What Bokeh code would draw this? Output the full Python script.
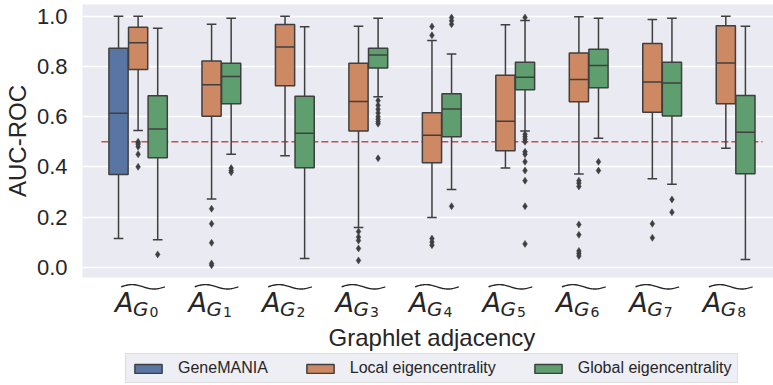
import numpy as np
from bokeh.plotting import figure
from bokeh.layouts import column
from bokeh.core.properties import value
from bokeh.models import (ColumnDataSource, Range1d, FixedTicker, PrintfTickFormatter,
                          Legend, LegendItem)
from bokeh.embed import file_html
from bokeh.resources import INLINE

# ---- data -----------------------------------------------------------------
groups = list(range(9))
group_subscripts = ["0", "1", "2", "3", "4", "5", "6", "7", "8"]
series_names = ["GeneMANIA", "Local eigencentrality", "Global eigencentrality"]
chance_level = 0.5

# GeneMANIA baseline is only evaluated on the first graphlet adjacency
gm_groups = [0]
gm_whislo = [0.114]
gm_q1 = [0.369]
gm_med = [0.614]
gm_q3 = [0.873]
gm_whishi = [1.000]
gm_fliers = [[]]

local_groups = groups
local_whislo = [0.545, 0.272, 0.444, 0.158, 0.198, 0.395, 0.371, 0.353, 0.474]
local_q1 = [0.788, 0.602, 0.723, 0.543, 0.416, 0.464, 0.659, 0.618, 0.651]
local_med = [0.895, 0.727, 0.878, 0.660, 0.526, 0.582, 0.748, 0.738, 0.814]
local_q3 = [0.956, 0.822, 0.967, 0.813, 0.616, 0.765, 0.854, 0.892, 0.962]
local_whishi = [1.000, 0.968, 1.000, 0.960, 0.904, 0.966, 0.998, 0.987, 1.000]
local_fliers = [
    [0.500, 0.495, 0.490, 0.480, 0.450, 0.400],
    [0.233, 0.173, 0.097, 0.015, 0.008],
    [],
    [0.142, 0.120, 0.106, 0.075, 0.027],
    [0.959, 0.924, 0.114, 0.100, 0.088],
    [],
    [0.345, 0.335, 0.322, 0.170, 0.129, 0.065, 0.055, 0.045],
    [0.173, 0.117],
    [],
]

global_groups = groups
global_whislo = [0.109, 0.450, 0.035, 0.679, 0.310, 0.543, 0.514, 0.331, 0.031]
global_q1 = [0.436, 0.651, 0.396, 0.794, 0.520, 0.707, 0.715, 0.603, 0.372]
global_med = [0.551, 0.760, 0.534, 0.846, 0.631, 0.757, 0.804, 0.734, 0.538]
global_q3 = [0.683, 0.813, 0.681, 0.873, 0.691, 0.817, 0.869, 0.817, 0.684]
global_whishi = [0.952, 0.992, 0.958, 0.992, 0.850, 0.983, 0.992, 0.992, 0.960]
global_fliers = [
    [0.051],
    [0.395, 0.385, 0.378],
    [],
    [0.664, 0.645, 0.630, 0.615, 0.600, 0.590, 0.580, 0.572, 0.434],
    [0.995, 0.982, 0.968, 0.243],
    [0.995, 0.530, 0.520, 0.510, 0.500, 0.460, 0.450, 0.420, 0.385, 0.345, 0.243, 0.093],
    [0.420, 0.385],
    [0.270, 0.219],
    [],
]

# ---- styling ----------------------------------------------------------------
W = 773
TOP_H, FOOT_H = 282, 103          # chart panel / tick-label + legend strip
FRAME_L, FRAME_T, FRAME_PAD_B = 77, 4, 5
X_LO, X_HI = -0.757, 8.649
Y_LO, Y_HI = -0.041, 1.047
BG = "#EAEAF2"
LEGEND_BG = "#EEEEF5"
INK = "#262626"
EDGE = "#3F3F3F"
COLORS = ["#5875A4", "#CC8963", "#5F9E6E"]
SANS = "Liberation Sans"
MATH = "DejaVu Sans"

n_hue = len(series_names)
slot = 0.8 / n_hue
hue_offsets = (np.arange(n_hue) - (n_hue - 1) / 2) * slot
box_w = slot * 0.98
px_per_x = (W - FRAME_L) / (X_HI - X_LO)

# ---- main chart -------------------------------------------------------------
p = figure(width=W, height=TOP_H, x_range=Range1d(X_LO, X_HI), y_range=Range1d(Y_LO, Y_HI),
           output_backend="svg", toolbar_location=None, x_axis_location=None,
           min_border_left=FRAME_L, min_border_right=0,
           min_border_top=FRAME_T, min_border_bottom=FRAME_PAD_B)
p.background_fill_color = BG
p.border_fill_color = "white"
p.outline_line_color = None

p.yaxis.ticker = FixedTicker(ticks=[0.0, 0.2, 0.4, 0.6, 0.8, 1.0])
p.yaxis.formatter = PrintfTickFormatter(format="%.1f")
p.yaxis.axis_label = "AUC-ROC"
p.yaxis.axis_label_text_font = SANS
p.yaxis.axis_label_text_font_size = "24px"
p.yaxis.axis_label_text_font_style = "normal"
p.yaxis.axis_label_text_color = INK
p.yaxis.axis_label_standoff = 3
p.yaxis.major_label_text_font = SANS
p.yaxis.major_label_text_font_size = "22px"
p.yaxis.major_label_text_color = INK
p.yaxis.major_label_standoff = 9
p.yaxis.axis_line_color = None
p.yaxis.major_tick_line_color = None
p.yaxis.minor_tick_line_color = None

p.xgrid.visible = False
p.ygrid.grid_line_color = "white"
p.ygrid.grid_line_width = 1.3

# chance level
p.line(x=[groups[0] - 0.5, groups[-1] + 0.5], y=[chance_level, chance_level],
       line_color="#C44E52", line_width=1.6, line_dash="7 3", level="underlay")

all_series = [
    (gm_groups, gm_whislo, gm_q1, gm_med, gm_q3, gm_whishi, gm_fliers),
    (local_groups, local_whislo, local_q1, local_med, local_q3, local_whishi, local_fliers),
    (global_groups, global_whislo, global_q1, global_med, global_q3, global_whishi, global_fliers),
]

for k, (grp, wlo, q1, med, q3, whi, fl) in enumerate(all_series):
    xs = np.asarray(grp, dtype=float) + hue_offsets[k]
    src = ColumnDataSource(dict(
        x=xs, x_l=xs - box_w / 2, x_r=xs + box_w / 2,
        cap_l=xs - box_w / 4, cap_r=xs + box_w / 4,
        wlo=wlo, q1=q1, med=med, q3=q3, whi=whi))
    p.segment(x0="x", y0="q3", x1="x", y1="whi", source=src, line_color=EDGE, line_width=1.5)
    p.segment(x0="x", y0="q1", x1="x", y1="wlo", source=src, line_color=EDGE, line_width=1.5)
    p.segment(x0="cap_l", y0="whi", x1="cap_r", y1="whi", source=src, line_color=EDGE, line_width=1.5)
    p.segment(x0="cap_l", y0="wlo", x1="cap_r", y1="wlo", source=src, line_color=EDGE, line_width=1.5)
    p.vbar(x="x", width=box_w, top="q3", bottom="q1", source=src,
           fill_color=COLORS[k], line_color=EDGE, line_width=1.5)
    p.segment(x0="x_l", y0="med", x1="x_r", y1="med", source=src, line_color=EDGE, line_width=1.5)
    fx = [x for x, vals in zip(xs, fl) for _ in vals]
    fy = [v for vals in fl for v in vals]
    if fy:
        p.scatter(x=fx, y=fy, marker="diamond", size=7, fill_color=EDGE,
                  line_color=EDGE, line_width=0.5)

# ---- strip below: tick labels, axis title and legend -------------------------
# y of this strip counts pixel rows downward from its top edge
q = figure(width=W, height=FOOT_H, x_range=p.x_range, y_range=Range1d(FOOT_H, 0),
           output_backend="svg", toolbar_location=None,
           x_axis_location=None, y_axis_location=None,
           min_border_left=FRAME_L, min_border_right=0, min_border_top=0, min_border_bottom=0)
q.background_fill_color = "white"
q.border_fill_color = "white"
q.outline_line_color = None
q.grid.visible = False

tick_src = ColumnDataSource(dict(x=groups, a=["A"] * len(groups), g=["G"] * len(groups),
                                 k=group_subscripts))
q.text(x="x", y=20, text="a", source=tick_src, x_offset=-23,
       text_font=value(MATH), text_font_style="italic", text_font_size="27px",
       text_color=INK, text_align="left", text_baseline="alphabetic")
q.text(x="x", y=26, text="g", source=tick_src, x_offset=-5,
       text_font=value(MATH), text_font_style="italic", text_font_size="20px",
       text_color=INK, text_align="left", text_baseline="alphabetic")
q.text(x="x", y=29.5, text="k", source=tick_src, x_offset=11.5,
       text_font=value(MATH), text_font_size="14px",
       text_color=INK, text_align="left", text_baseline="alphabetic")

# wide tilde over each tick label
t = np.linspace(0.0, 1.0, 48)
wave_px = -17 + 44 * t
wave_row = 4.3 - 2.2 * np.sin(2 * np.pi * t)
q.multi_line(xs=[list(g + wave_px / px_per_x) for g in groups],
             ys=[list(wave_row) for _ in groups],
             line_color=INK, line_width=1.4)

q.text(x=[(groups[0] + groups[-1]) / 2], y=[55], text=["Graphlet adjacency"],
       text_font=value(SANS), text_font_size="24px", text_color=INK,
       text_align="center", text_baseline="alphabetic")

# legend swatches share the box styling; their tiny bar sits beneath the opaque legend box
legend_items = []
mid_group = (groups[0] + groups[-1]) / 2
for k, name in enumerate(series_names):
    swatch = q.vbar(x=[mid_group], width=0.02, top=[88], bottom=[86],
                    fill_color=COLORS[k], line_color=EDGE, line_width=1.5)
    legend_items.append(LegendItem(label=name, renderers=[swatch]))

legend = Legend(items=legend_items, orientation="horizontal", location=(43, 2),
                padding=5, margin=0, spacing=35, label_standoff=13,
                glyph_width=34, glyph_height=11, label_height=16,
                label_text_font=SANS, label_text_font_size="16px", label_text_color=INK,
                border_line_color="#CCCCCC", border_line_width=1,
                background_fill_color=LEGEND_BG, background_fill_alpha=1.0)
q.add_layout(legend, "center")

layout = column(p, q, spacing=0)
open("out.html", "w").write(file_html(layout, INLINE))
